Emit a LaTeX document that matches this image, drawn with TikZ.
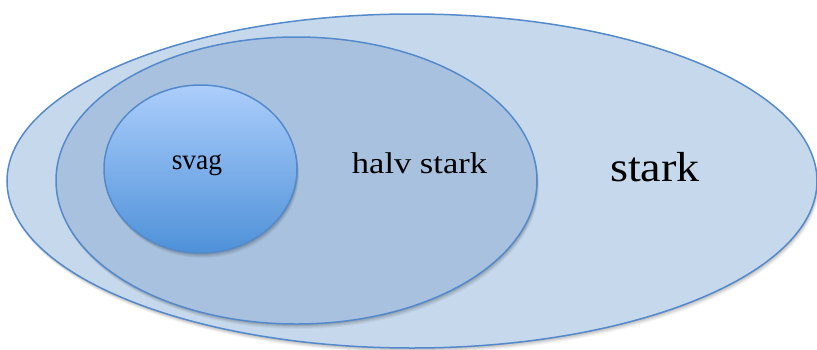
\documentclass[tikz,border=0pt]{standalone}
\usepackage{graphicx}
\usepackage{fontspec}
\setmainfont{Liberation Serif}
\usetikzlibrary{shapes.geometric,shadows}
\definecolor{edgeblue}{RGB}{84,138,204}
\definecolor{outerfill}{RGB}{198,217,236}
\definecolor{midfill}{RGB}{167,193,222}
\definecolor{innertop}{RGB}{172,206,252}
\definecolor{innerbot}{RGB}{78,145,216}
\tikzset{
  softshadow/.style={
    general shadow={fill=black,opacity=0.07,shadow xshift=0.4pt,shadow yshift=-1pt},
    general shadow={fill=black,opacity=0.07,shadow xshift=0.8pt,shadow yshift=-2pt},
    general shadow={fill=black,opacity=0.06,shadow xshift=1.2pt,shadow yshift=-3pt},
    general shadow={fill=black,opacity=0.05,shadow xshift=1.6pt,shadow yshift=-4pt},
    general shadow={fill=black,opacity=0.04,shadow xshift=2pt,shadow yshift=-5pt}},
  region/.style={ellipse, draw=edgeblue, line width=1.5pt, inner sep=0pt, outer sep=0pt},
  lbl/.style={text=black, inner sep=0pt, anchor=base}
}
\begin{document}
\begin{tikzpicture}[x=1pt,y=-1pt]
\useasboundingbox (0,0) rectangle (817,349);
\node[region, softshadow, fill=outerfill, minimum width=810pt, minimum height=334pt] (stark) at (412,181) {};
\node[region, softshadow, fill=midfill, minimum width=481pt, minimum height=287pt] (halvstark) at (296.5,180.5) {};
\node[region, softshadow, top color=innertop, bottom color=innerbot, minimum width=193pt, minimum height=168pt] (svag) at (200.5,169) {};
\node[lbl, font=\fontsize{29}{29}\selectfont] (svagtext) at (197,169) {\scalebox{0.95}[1]{svag}};
\node[lbl, font=\fontsize{30}{30}\selectfont] (halvtext) at (419.5,173) {\scalebox{1.15}[1]{halv stark}};
\node[lbl, font=\fontsize{42}{42}\selectfont] (starktext) at (655,181) {\scalebox{1.1}[1]{stark}};
\end{tikzpicture}
\end{document}
